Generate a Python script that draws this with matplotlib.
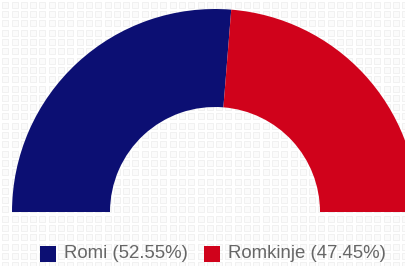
import matplotlib
matplotlib.use("Agg")
import matplotlib.pyplot as plt
import numpy as np
from matplotlib.patches import Rectangle

categories = ["Romi", "Romkinje"]
values = [52.55, 47.45]
colors = ["#0c0f73", "#d0021b"]

W, H = 405, 266
fig = plt.figure(figsize=(W / 100, H / 100), dpi=100)
fig.patch.set_facecolor("white")

# background pattern
bg = fig.add_axes([0, 0, 1, 1])
bg.set_xlim(0, W)
bg.set_ylim(H, 0)
bg.axis("off")
gx, gy = np.meshgrid(np.arange(5.2, W + 10, 9.3), np.arange(4.8, H + 10, 9.3))
bg.scatter(gx.ravel(), gy.ravel(), marker="s", s=24, facecolor="#fbfbfb",
           edgecolor="#f0f0f0", linewidths=0.6, zorder=0)

ax = fig.add_axes([0, 0, 1, 1])
ax.set_xlim(0, W)
ax.set_ylim(0, H)
ax.set_aspect("equal")
ax.axis("off")
ax.patch.set_alpha(0)

total = sum(values)
wedges, _ = ax.pie(values + [total], colors=colors + ["none"], startangle=180,
                   counterclock=False, center=(215, 54), radius=203,
                   wedgeprops=dict(width=98, linewidth=0), frame=True)
wedges[-1].set_visible(False)
ax.set_xlim(0, W)
ax.set_ylim(0, H)
ax.axis("off")

# legend
labels = [f"{c} ({v:.2f}%)" for c, v in zip(categories, values)]
xs = [40, 204]
for x, lab, col in zip(xs, labels, colors):
    ax.add_patch(Rectangle((x, 266 - 262), 16, 16, facecolor=col, edgecolor="none"))
    ax.text(x + 24, 266 - 254, lab, fontsize=13.4, color="#666666",
            family="Liberation Sans", va="center", ha="left")

fig.savefig("out.png", dpi=100, facecolor="white")
